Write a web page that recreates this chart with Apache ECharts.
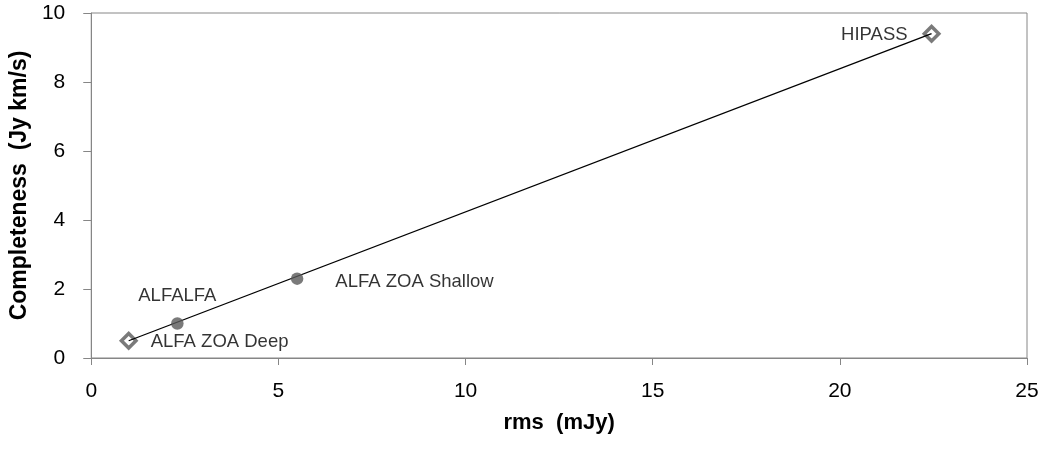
<!DOCTYPE html>
<html>
<head>
<meta charset="utf-8">
<script src="https://cdn.jsdelivr.net/npm/echarts@6/dist/echarts.min.js"></script>
<style>html,body{margin:0;padding:0;background:#fff}#c{width:1045px;height:449px}</style>
</head>
<body>
<div id="c"></div>
<script>
// Survey data: rms (mJy) vs completeness (Jy km/s)
const diamondNames = ['ALFA ZOA Deep', 'HIPASS'];
const diamondRms = [1.0, 22.45];
const diamondComp = [0.5, 9.4];
const circleNames = ['ALFALFA', 'ALFA ZOA Shallow'];
const circleRms = [2.3, 5.5];
const circleComp = [1.0, 2.3];
const xTicks = [0, 5, 10, 15, 20, 25];
const yTicks = [0, 2, 4, 6, 8, 10];

const FONT = 'Liberation Sans';
const labelCfg = {
  'ALFA ZOA Deep': {position: 'right', distance: 13, offset: [0, 1]},
  'HIPASS': {position: 'left', distance: 15, offset: [0, 1]},
  'ALFALFA': {position: 'top', distance: 12, offset: [0, 0]},
  'ALFA ZOA Shallow': {position: 'right', distance: 32, offset: [0, 3]}
};
function pts(names, xs, ys) {
  return names.map((n, i) => ({
    name: n,
    value: [xs[i], ys[i]],
    label: Object.assign({show: true, formatter: n, color: '#000', fontFamily: FONT, fontSize: 18.5}, labelCfg[n])
  }));
}

const chart = echarts.init(document.getElementById('c'), null, {renderer: 'canvas'});
const axisGray = '#868686';
chart.setOption({
  animation: false,
  grid: {left: 91, right: 18, top: 13, bottom: 91, show: true, borderColor: axisGray, borderWidth: 1},
  xAxis: {
    type: 'value', min: xTicks[0], max: xTicks[xTicks.length - 1], interval: xTicks[1] - xTicks[0],
    name: 'rms  (mJy)', nameLocation: 'middle', nameGap: 54,
    nameTextStyle: {fontFamily: FONT, fontSize: 22, fontWeight: 'bold', color: '#000'},
    axisLine: {show: true, lineStyle: {color: axisGray, width: 1}},
    axisTick: {show: true, inside: false, length: 7, lineStyle: {color: axisGray}},
    axisLabel: {margin: 23, fontFamily: FONT, fontSize: 21, color: '#000'},
    splitLine: {show: false}
  },
  yAxis: {
    type: 'value', min: yTicks[0], max: yTicks[yTicks.length - 1], interval: yTicks[1] - yTicks[0],
    name: 'Completeness  (Jy km/s)', nameLocation: 'middle', nameGap: 58, nameRotate: 90,
    nameTextStyle: {fontFamily: FONT, fontSize: 23, fontWeight: 'bold', color: '#000'},
    axisLine: {show: true, lineStyle: {color: axisGray, width: 1}},
    axisTick: {show: true, inside: false, length: 8, lineStyle: {color: axisGray}},
    axisLabel: {margin: 26, fontFamily: FONT, fontSize: 21, color: '#000'},
    splitLine: {show: false}
  },
  series: [
    {
      type: 'scatter', name: 'diamonds', symbol: 'diamond', symbolSize: 14.5, z: 2,
      itemStyle: {color: '#fff', borderColor: '#595959', borderWidth: 3.5},
      data: pts(diamondNames, diamondRms, diamondComp)
    },
    {
      type: 'line', name: 'trend', showSymbol: false, symbol: 'none', z: 3,
      lineStyle: {color: '#000', width: 1.3},
      data: diamondRms.map((x, i) => [x, diamondComp[i]]),
      silent: true
    },
    {
      type: 'scatter', name: 'circles', symbol: 'circle', symbolSize: 12.5, z: 4,
      itemStyle: {color: '#595959'},
      data: pts(circleNames, circleRms, circleComp)
    }
  ]
});
</script>
</body>
</html>
